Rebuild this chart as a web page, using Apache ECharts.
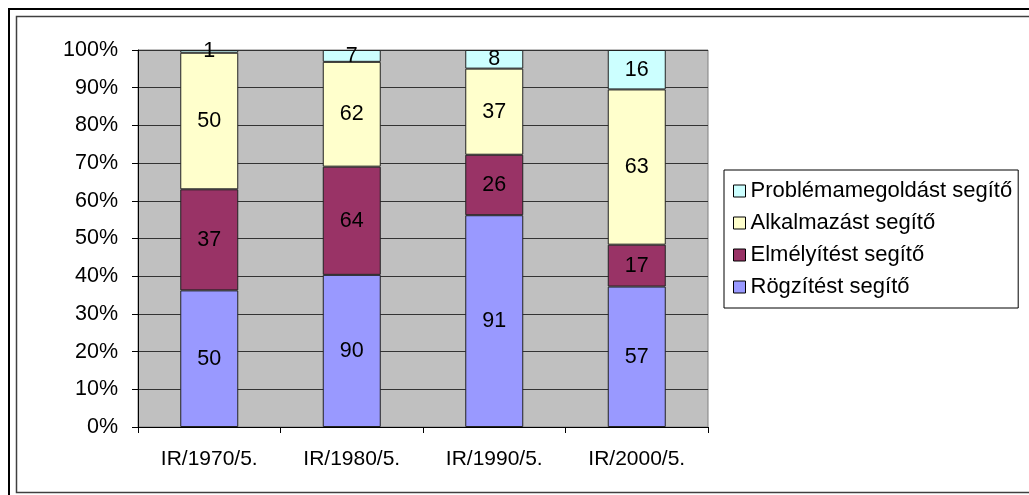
<!DOCTYPE html>
<html>
<head>
<meta charset="utf-8">
<script src="https://cdn.jsdelivr.net/npm/echarts@6/dist/echarts.min.js"></script>
<style>
html,body{margin:0;padding:0;background:#fff;}
#chart{width:1029px;height:495px;}
</style>
</head>
<body>
<div id="chart"></div>
<script>
const categories = ['IR/1970/5.', 'IR/1980/5.', 'IR/1990/5.', 'IR/2000/5.'];
const rogzites = [50, 90, 91, 57];
const elmelyites = [37, 64, 26, 17];
const alkalmazas = [50, 62, 37, 63];
const problema = [1, 7, 8, 16];
const seriesNames = ['Rögzítést segítő', 'Elmélyítést segítő', 'Alkalmazást segítő', 'Problémamegoldást segítő'];
const seriesColors = ['#9999FF', '#993366', '#FFFFCC', '#CCFFFF'];
const yTicks = [0, 10, 20, 30, 40, 50, 60, 70, 80, 90, 100];

const raw = [rogzites, elmelyites, alkalmazas, problema];
const totals = categories.map((c, i) => raw.reduce((s, arr) => s + arr[i], 0));
const FONT = 'Liberation Sans, Arial, sans-serif';

const chart = echarts.init(document.getElementById('chart'), null, {renderer: 'canvas'});
const series = raw.map((arr, k) => ({
  name: seriesNames[k],
  type: 'bar',
  stack: 'total',
  barWidth: 58,
  data: arr.map((v, i) => ({value: v / totals[i] * 100, raw: v})),
  itemStyle: {color: seriesColors[k], borderColor: '#222', borderWidth: 1},
  label: {
    show: true, position: 'inside', color: '#000', fontSize: 21.5, fontFamily: FONT,
    formatter: p => String(p.data.raw)
  },
  emphasis: {disabled: true}
}));

chart.setOption({
  animation: false,
  backgroundColor: '#fff',
  graphic: [
    {type: 'rect', silent: true, z: 100, shape: {x: 9, y: 9, width: 1100, height: 600}, style: {fill: 'none', stroke: '#000', lineWidth: 2}},
    {type: 'rect', silent: true, z: 100, shape: {x: 16.5, y: 16.5, width: 1100, height: 476}, style: {fill: 'none', stroke: '#404040', lineWidth: 1.5}}
  ],
  grid: {
    left: 138, right: 321, top: 50, bottom: 68,
    show: true, backgroundColor: '#C0C0C0', borderColor: '#808080', borderWidth: 1
  },
  legend: {
    orient: 'vertical',
    left: 724, top: 170,
    padding: [10, 6, 10, 9],
    itemGap: 10,
    itemWidth: 12, itemHeight: 12,
    icon: 'rect',
    borderColor: '#000', borderWidth: 1, backgroundColor: '#fff',
    itemStyle: {borderColor: '#000', borderWidth: 1},
    textStyle: {fontSize: 22, fontFamily: FONT, color: '#000'},
    data: seriesNames.slice().reverse()
  },
  xAxis: {
    type: 'category',
    data: categories,
    axisLine: {lineStyle: {color: '#000', width: 1}},
    axisTick: {show: true, length: 6, lineStyle: {color: '#000'}},
    axisLabel: {fontSize: 21, fontFamily: FONT, color: '#000', margin: 22}
  },
  yAxis: {
    type: 'value',
    min: yTicks[0], max: yTicks[yTicks.length - 1], interval: 10,
    axisLine: {show: true, lineStyle: {color: '#000', width: 1}},
    axisTick: {show: true, length: 6, lineStyle: {color: '#000'}},
    axisLabel: {fontSize: 21.5, fontFamily: FONT, color: '#000', margin: 20, formatter: '{value}%'},
    splitLine: {show: true, lineStyle: {color: '#333', width: 1}}
  },
  series: series
});
</script>
</body>
</html>
